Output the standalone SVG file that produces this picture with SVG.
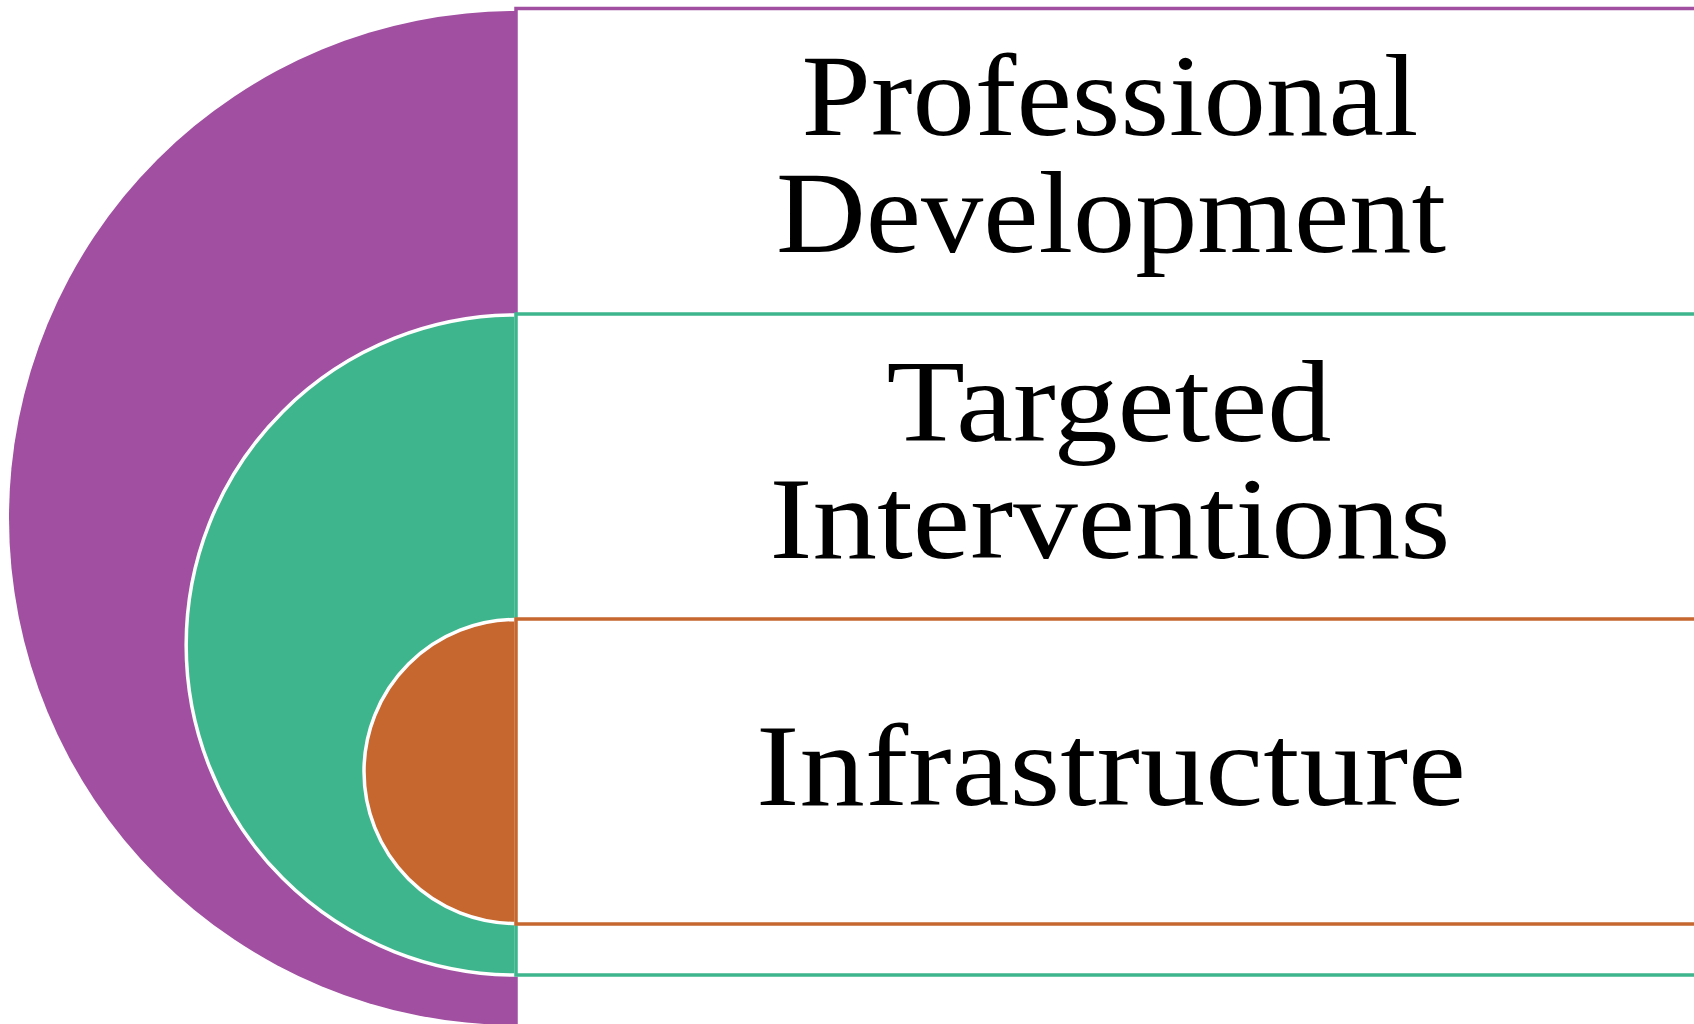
<svg xmlns="http://www.w3.org/2000/svg" width="1694" height="1024" viewBox="0 0 1694 1024">
  <style>
    .label { font-family: "Liberation Serif", "Times New Roman", serif; font-size: 116px; fill: #000000; text-anchor: middle; }
    .band { fill: #ffffff; stroke-width: 3.5; }
    .arc { stroke: #ffffff; stroke-width: 3.5; }
  </style>
  <rect x="0" y="0" width="1694" height="1024" fill="#ffffff"/>

  <!-- outer tier: professional development -->
  <g id="professional-development">
    <path d="M516,11 A507,507 0 0 0 516,1025 Z" fill="#A04FA1"/>
    <rect class="band" x="516" y="8.5" width="1200" height="1030" stroke="#A04FA1"/>
    <text class="label" x="1110" y="135" textLength="617" lengthAdjust="spacingAndGlyphs">Professional</text>
    <text class="label" x="1111" y="252" textLength="670" lengthAdjust="spacingAndGlyphs">Development</text>
  </g>

  <!-- middle tier: targeted interventions -->
  <g id="targeted-interventions">
    <path class="arc" d="M516,315 A330,330 0 0 0 516,975 Z" fill="#3EB58D"/>
    <rect class="band" x="516" y="314" width="1200" height="661" stroke="#3EB58D"/>
    <text class="label" x="1109" y="441" textLength="445" lengthAdjust="spacingAndGlyphs">Targeted</text>
    <text class="label" x="1110" y="558" textLength="681" lengthAdjust="spacingAndGlyphs">Interventions</text>
  </g>

  <!-- inner tier: infrastructure -->
  <g id="infrastructure">
    <path class="arc" d="M516,619.5 A152,152 0 0 0 516,923.5 Z" fill="#C5672F"/>
    <rect class="band" x="516" y="619" width="1200" height="305" stroke="#C5672F"/>
    <text class="label" x="1111" y="805" textLength="710" lengthAdjust="spacingAndGlyphs">Infrastructure</text>
  </g>

  <g id="connectors"></g>
</svg>
